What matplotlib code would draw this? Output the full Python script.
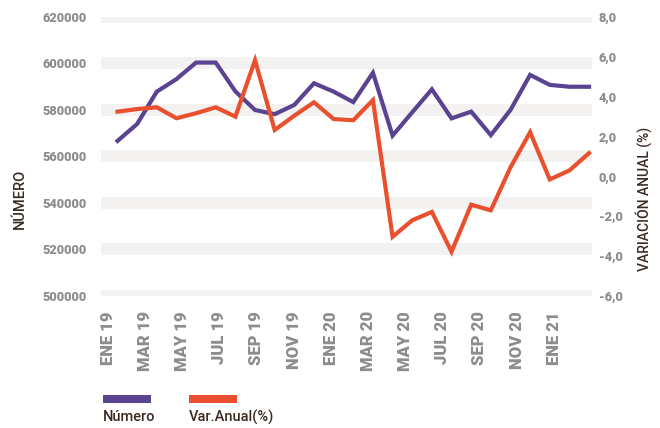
import matplotlib
matplotlib.use("Agg")
import matplotlib.pyplot as plt
from matplotlib.patches import Rectangle
import numpy as np

months = ["ENE 19", "FEB 19", "MAR 19", "ABR 19", "MAY 19", "JUN 19", "JUL 19", "AGO 19",
          "SEP 19", "OCT 19", "NOV 19", "DIC 19", "ENE 20", "FEB 20", "MAR 20", "ABR 20",
          "MAY 20", "JUN 20", "JUL 20", "AGO 20", "SEP 20", "OCT 20", "NOV 20", "DIC 20",
          "ENE 21"]
numero = [566700, 574000, 587900, 593300, 600400, 600400, 588000, 580000, 578200, 582200,
          591500, 587900, 583400, 596000, 569000, 579000, 588900, 576400, 579300, 569200,
          580000, 595100, 590800, 590000, 590000]
var_anual = [3.25, 3.38, 3.47, 2.92, 3.17, 3.47, 3.0, 5.83, 2.33, 3.05, 3.72, 2.88, 2.82,
             3.83, -3.03, -2.2, -1.78, -3.78, -1.42, -1.7, 0.45, 2.22, -0.15, 0.3, 1.17]
tick_labels = months[::2]
left_ticks = [500000, 520000, 540000, 560000, 580000, 600000, 620000]
right_ticks = [-6, -4, -2, 0, 2, 4, 6, 8]

PURPLE = "#5a4390"
ORANGE = "#e8502e"
GRAY = "#8c8c8c"
BROWN = "#3b2a22"
BAND = "#f3f2f0"
FONT = ["Roboto", "DejaVu Sans"]

W, H = 660, 428
fig = plt.figure(figsize=(W / 100, H / 100), dpi=100)
ax = fig.add_axes([101 / W, (H - 296) / H, (592 - 101) / W, (296 - 17) / H])
ax2 = ax.twinx()

x = np.arange(len(months))
ax.set_xlim(-0.84, 24.15)
ax.set_ylim(500000, 620000)
ax2.set_ylim(-6, 8)

for v in left_ticks:
    ax.axhline(v, color=BAND, lw=8.6, zorder=0, solid_capstyle="butt")

ax.plot(x, numero, color=PURPLE, lw=3.0, zorder=3, solid_joinstyle="miter")
ax2.plot(x, var_anual, color=ORANGE, lw=3.0, zorder=3, solid_joinstyle="miter")

for a in (ax, ax2):
    for s in a.spines.values():
        s.set_visible(False)
    a.tick_params(length=0)
ax.patch.set_visible(False)

ax.set_yticks(left_ticks)
ax.set_yticklabels([f"{v}" for v in left_ticks], fontfamily=FONT, fontweight="heavy",
                   fontsize=9.2, color=GRAY)
ax.tick_params(axis="y", pad=10)
ax2.set_yticks(right_ticks)
ax2.set_yticklabels([f"{v:.1f}".replace(".", ",") for v in right_ticks], fontfamily=FONT,
                    fontweight="heavy", fontsize=9.2, color=GRAY)
ax2.tick_params(axis="y", pad=5)

tick_pos = np.arange(0, len(months), 2) * 0.946 - 0.5
ax.set_xticks(tick_pos)
ax.set_xticklabels(tick_labels, rotation=90, fontfamily=FONT, fontweight="heavy",
                   fontsize=12, color=GRAY, va="top", ha="center")
ax.tick_params(axis="x", pad=11)

fig.text(19.5 / W, 1 - 199 / H, "NÚMERO", rotation=90, ha="center", va="center",
         fontfamily=FONT, fontsize=10.5, color=BROWN, fontweight="medium")
fig.text(643.5 / W, 1 - 199 / H, "VARIACIÓN ANUAL (%)", rotation=90, ha="center",
         va="center", fontfamily=FONT, fontsize=10, color=BROWN, fontweight="medium")

fig.add_artist(Rectangle((103 / W, 1 - 403 / H), 48 / W, 8 / H, transform=fig.transFigure,
                         color=PURPLE, lw=0))
fig.add_artist(Rectangle((189 / W, 1 - 403 / H), 48 / W, 8 / H, transform=fig.transFigure,
                         color=ORANGE, lw=0))
fig.text(103 / W, 1 - 417 / H, "Número", ha="left", va="center", fontfamily=FONT,
         fontsize=10.5, color=BROWN, fontweight="medium")
fig.text(189 / W, 1 - 417 / H, "Var.Anual(%)", ha="left", va="center", fontfamily=FONT,
         fontsize=10.5, color=BROWN, fontweight="medium")

fig.savefig("out.png", dpi=100, facecolor="white")
